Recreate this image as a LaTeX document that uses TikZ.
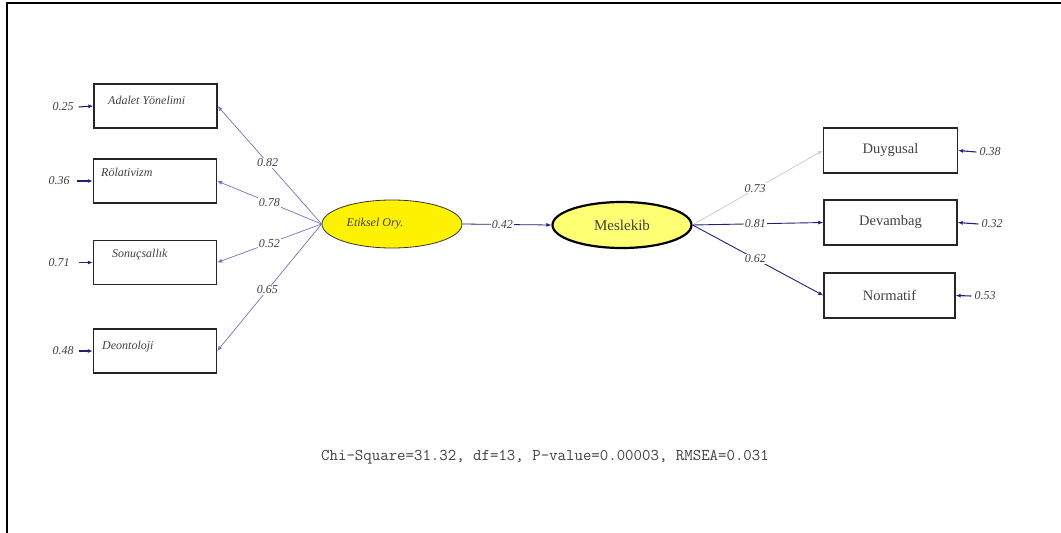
\documentclass[tikz,border=0pt]{standalone}
\usepackage{fontspec}
\setmainfont{Liberation Serif}
\usetikzlibrary{arrows.meta,shapes.geometric}
\definecolor{navy}{rgb}{0.13,0.13,0.48}
\definecolor{pathblue}{rgb}{0.45,0.45,0.75}
\definecolor{pathgray}{rgb}{0.8,0.8,0.8}
\definecolor{latfill}{rgb}{1,1,0.45}
\definecolor{txtgray}{rgb}{0.25,0.25,0.25}

\begin{document}
\begin{tikzpicture}[x=1pt, y=-1pt, >={Latex[length=5pt,width=4pt]},
	obs/.style = {shape=rectangle, draw=black!85, line width=1.3pt, minimum width=123pt, minimum height=44pt, inner sep=0pt, text=txtgray, font=\fontsize{14.5}{16}\selectfont},
	lat/.style = {shape=ellipse, draw, minimum width=140pt, minimum height=48pt, inner sep=0pt, text=txtgray},
	boxtext/.style = {anchor=west, inner sep=0pt, text=txtgray, font=\fontsize{12}{14}\selectfont\itshape},
	coef/.style = {fill=white, inner sep=1pt, text=txtgray, font=\fontsize{12}{14}\selectfont\itshape},
	err/.style = {inner sep=1pt, text=txtgray, font=\fontsize{12}{14}\selectfont\itshape},
	errline/.style = {->, draw=navy, line width=1.1pt},
	load/.style = {->, draw=pathblue, line width=0.7pt}]
				\useasboundingbox (0,0) rectangle (1061,533);
				\draw[line width=2.5pt] (7,533) -- (7,3) -- (1061,3);
				% latent variables
				\node[lat, fill=yellow, draw=black!80, line width=0.8pt, label={[xshift=-17pt, text=txtgray, font=\fontsize{12}{14}\selectfont\itshape]center:Etiksel Ory.}] (et) at (392,224) {};
				\node[lat, fill=latfill, line width=2.2pt, minimum width=139pt, minimum height=46pt, font=\fontsize{15}{17}\selectfont] (me) at (622,225) {Meslekib};
				% left indicators
				\node[obs] (ad) at (155.5,106) {};
				\node[obs] (ro) at (155,181) {};
				\node[obs] (so) at (155,262.5) {};
				\node[obs] (de) at (155,351) {};
				\node[boxtext] (adt) at (108,100) {Adalet Yönelimi};
				\node[boxtext] (rot) at (101,172) {Rölativizm};
				\node[boxtext] (sot) at (112,255) {Sonuçsallık};
				\node[boxtext] (det) at (102,347) {Deontoloji};
				% right indicators
				\node[obs, minimum width=134pt, minimum height=45pt] (du) at (890.5,150.5) {Duygusal};
				\node[obs, minimum width=133pt, minimum height=45pt] (dv) at (890.5,222.5) {Devambag};
				\node[obs, minimum width=131pt, minimum height=45pt] (no) at (889.5,295.5) {Normatif};
				% error terms
				\node[err] (ead) at (63,107) {0.25};
				\node[err] (ero) at (59,181) {0.36};
				\node[err] (eso) at (59,262.5) {0.71};
				\node[err] (ede) at (63,351) {0.48};
				\node[err] (edu) at (990,152) {0.38};
				\node[err] (edv) at (992,224) {0.32};
				\node[err] (eno) at (985,296) {0.53};
				\draw[errline] (ead.east) ++(4,0) -- (ad.west);
				\draw[errline] (ero.east) ++(6,0) -- (ro.west);
				\draw[errline] (eso.east) ++(8,0) -- (so.west);
				\draw[errline] (ede.east) ++(4,0) -- (de.west);
				\draw[errline] (edu.west) ++(-2,0) -- (du.east);
				\draw[errline] (edv.west) ++(-2,0) -- (dv.east);
				\draw[errline] (eno.west) ++(-2,0) -- (no.east);
				% loadings
				\draw[load] (et.west) -- (ad.east) node[coef, pos=0.52] {0.82};
				\draw[load] (et.west) -- (ro.east) node[coef, pos=0.5] {0.78};
				\draw[load] (et.west) -- (so.east) node[coef, pos=0.5] {0.52};
				\draw[load] (et.west) -- (de.east) node[coef, pos=0.52] {0.65};
				\draw[->, draw=navy, line width=0.8pt] (et.east) -- (me.west) node[coef, pos=0.45] {0.42};
				\draw[->, draw=pathgray, line width=0.8pt] (me.east) -- (du.west) node[coef, pos=0.48, yshift=1pt] {0.73};
				\draw[->, draw=navy, line width=0.9pt] (me.east) -- (dv.west) node[coef, pos=0.48] {0.81};
				\draw[->, draw=navy, line width=0.9pt] (me.east) -- (no.west) node[coef, pos=0.48] {0.62};
				\node[text=txtgray, font=\fontsize{16.4}{18}\selectfont\ttfamily] (fit) at (545,457) {Chi-Square=31.32, df=13, P-value=0.00003, RMSEA=0.031};
			\end{tikzpicture}
\end{document}
